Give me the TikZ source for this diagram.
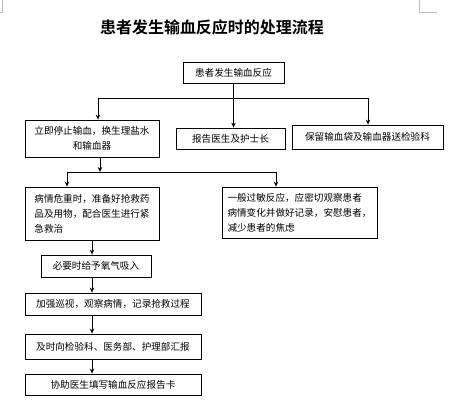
\documentclass[tikz,border=0pt]{standalone}
\usepackage{fontspec}
\usepackage{tikz}
\usetikzlibrary{arrows.meta}
\setmainfont{Noto Sans CJK SC}[BoldFont={Noto Sans CJK SC Bold}]
\definecolor{cornergray}{HTML}{BBBBBB}

\begin{document}
\begin{tikzpicture}[x=1pt,y=-1pt,
  >={Stealth[length=5pt,width=4.5pt]},
  flowbox/.style={draw=black,line width=0.8pt,inner sep=2pt,font=\fontsize{9.6}{15}\selectfont,align=center},
  flowline/.style={line width=0.8pt,color=black}]
\useasboundingbox[fill=white] (0,0) rectangle (456,412);
% page corner marks
\draw[cornergray,line width=0.8pt] (2,0) -- (2,12) -- (0,12);
\draw[cornergray,line width=0.8pt] (419,0) -- (419,12) -- (437,12);
\node[font=\fontsize{16}{18}\selectfont\bfseries] (title) at (212,27) {患者发生输血反应时的处理流程};
\node[flowbox,minimum width=101pt,minimum height=21pt] (start) at (233.5,72.5) {患者发生输血反应};
\node[flowbox,minimum width=134pt,minimum height=37pt] (stop) at (92,138.5) {立即停止输血，换生理盐水\\和输血器};
\node[flowbox,minimum width=109pt,minimum height=21pt] (report) at (230.5,138.5) {报告医生及护士长};
\node[flowbox,minimum width=151pt,minimum height=24pt] (keep) at (367.5,137) {保留输血袋及输血器送检验科};
\node[flowbox,align=left,minimum width=134pt,minimum height=53pt] (severe) at (92,213.5) {病情危重时，准备好抢救药\\品及用物，配合医生进行紧\\急救治};
\node[flowbox,align=left,minimum width=155pt,minimum height=51pt] (mild) at (299.5,212.5) {一般过敏反应，应密切观察患者\\病情变化并做好记录，安慰患者，\\减少患者的焦虑};
\node[flowbox,minimum width=110pt,minimum height=22pt] (oxygen) at (96,266) {必要时给予氧气吸入};
\node[flowbox,minimum width=176pt,minimum height=22pt] (watch) at (113,304) {加强巡视，观察病情，记录抢救过程};
\node[flowbox,minimum width=176pt,minimum height=25pt] (inform) at (113,346.5) {及时向检验科、医务部、护理部汇报};
\node[flowbox,minimum width=176pt,minimum height=21pt] (card) at (113,384.5) {协助医生填写输血反应报告卡};
% first branching
\coordinate (fork1l) at (98,98);
\coordinate (fork1r) at (368,98);
\draw[flowline] (fork1l) -- (fork1r);
\draw[flowline,->] (start.south) -- (start.south |- report.north);
\draw[flowline,->] (fork1l) -- (fork1l |- stop.north);
\draw[flowline,->] (fork1r) -- (fork1r |- keep.north);
% second branching
\coordinate (fork2) at (100,172);
\coordinate (fork2l) at (67,172);
\coordinate (fork2r) at (276,172);
\draw[flowline,->] (fork2 |- stop.south) -- (fork2);
\draw[flowline] (fork2l) -- (fork2r);
\draw[flowline,->] (fork2l) -- (fork2l |- severe.north);
\draw[flowline,->] (fork2r) -- (fork2r |- mild.north);
% main chain
\draw[flowline,->] (severe.south) -- (severe.south |- oxygen.north);
\draw[flowline,->] (severe.south |- oxygen.south) -- (severe.south |- watch.north);
\draw[flowline,->] (severe.south |- watch.south) -- (severe.south |- inform.north);
\draw[flowline,->] (severe.south |- inform.south) -- (severe.south |- card.north);
\end{tikzpicture}
\end{document}
